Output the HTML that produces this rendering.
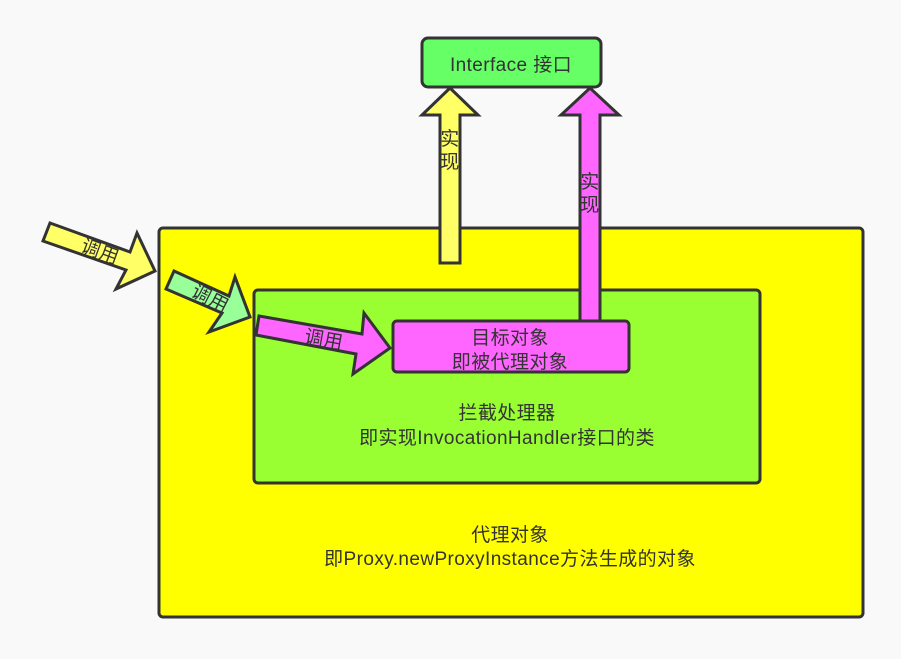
<!DOCTYPE html>
<html><head><meta charset="utf-8"><style>
body{margin:0;background:#f9f9f9;width:901px;height:654px;overflow:hidden}
svg text{font-family:"Liberation Sans","Noto Sans CJK SC",sans-serif;fill:#333;font-size:19px;letter-spacing:0.4px}
</style></head><body>
<svg width="901" height="654" xmlns="http://www.w3.org/2000/svg">
<g stroke="#333" stroke-width="3" stroke-linejoin="miter">
<rect x="159" y="228" width="704" height="389" rx="4" fill="#ffff00"/>
<rect x="254" y="290" width="506" height="193" rx="4" fill="#99ff33"/>
<rect x="422" y="38" width="179" height="49" rx="6" fill="#66ff66"/>
<polygon points="440,263 440,115 422,115 450,88 478,115 460,115 460,263" fill="#ffff66"/>
<polygon points="580,335 580,115 561,115 590,88 619,115 600,115 600,335" fill="#ff66ff"/>
<rect x="393" y="321" width="236" height="51" rx="4" fill="#ff66ff"/>
<polygon points="50,223 130,252 137,233 155,271 116,289 126,270 43,241" fill="#ffff66"/>
<polygon points="174,271 229,296 235,277 250,317 209,332 222,313 166,289" fill="#99ff99"/>
<polygon points="259,316 362,334 364,313 390,348 353,374 356,354 256,335" fill="#ff66ff"/>
</g>
<text x="511" y="71" text-anchor="middle">Interface 接口</text>
<text x="450" y="145" text-anchor="middle">实</text>
<text x="450" y="168" text-anchor="middle">现</text>
<text x="590" y="188" text-anchor="middle">实</text>
<text x="590" y="211" text-anchor="middle">现</text>
<text x="100" y="258" text-anchor="middle" transform="rotate(20 100 252)">调用</text>
<text x="210" y="305" text-anchor="middle" transform="rotate(27 210 299)">调用</text>
<text x="324" y="346" text-anchor="middle" transform="rotate(10 324 339)">调用</text>
<text x="510" y="344" text-anchor="middle">目标对象</text>
<text x="510" y="368" text-anchor="middle">即被代理对象</text>
<text x="507" y="419" text-anchor="middle">拦截处理器</text>
<text x="507" y="444" text-anchor="middle">即实现InvocationHandler接口的类</text>
<text x="510" y="541" text-anchor="middle">代理对象</text>
<text x="510" y="565" text-anchor="middle">即Proxy.newProxyInstance方法生成的对象</text>
</svg>
</body></html>
